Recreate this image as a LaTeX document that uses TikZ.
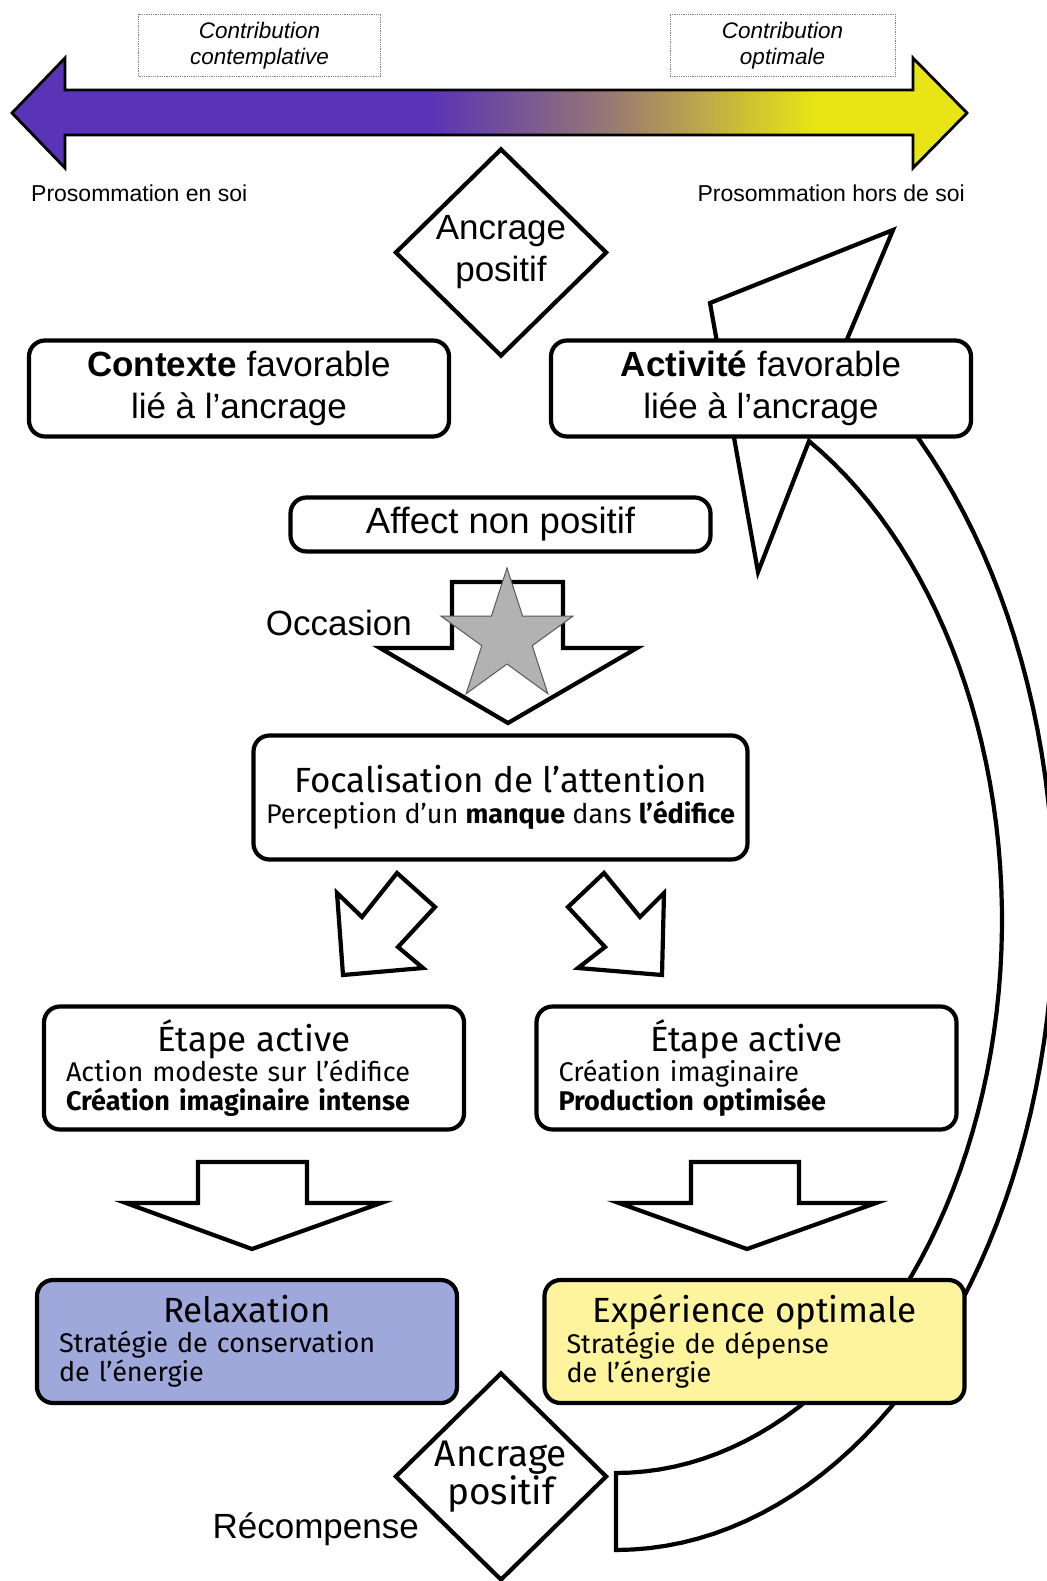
\documentclass[tikz,border=0pt]{standalone}
\usepackage{fontspec}
\setmainfont{Liberation Sans}
\newfontfamily\dinfont{Fira Sans}
\usepackage{xcolor}
\usepackage{tikz}
\usetikzlibrary{shapes.geometric,arrows.meta}
\definecolor{pviolet}{RGB}{90,52,182}
\definecolor{pmid}{RGB}{150,118,118}
\definecolor{pjaune}{RGB}{232,228,22}
\definecolor{relaxfond}{RGB}{159,168,218}
\definecolor{optifond}{RGB}{255,244,158}
\definecolor{etoile}{RGB}{178,178,178}
\pgfdeclarehorizontalshading{prosom}{100bp}{color(0bp)=(pviolet); color(47bp)=(pviolet); color(56bp)=(pmid); color(67bp)=(pjaune); color(100bp)=(pjaune)}
\newcommand\grandtxt{\fontsize{35}{42}\selectfont}
\newcommand\dintitre{\dinfont\fontsize{35}{34}\selectfont}
\newcommand\dinsous{\dinfont\fontsize{27}{29}\selectfont}

\begin{document}
\begin{tikzpicture}[x=1pt,y=-1pt,
  boite/.style={draw,line width=4.2pt,rounded corners=16pt,fill=white,inner sep=0pt,minimum width=420pt,minimum height=96pt,align=center,font=\grandtxt},
  etape/.style={boite,minimum height=123pt,text width=376pt,align=left,font=\dinsous},
  bloc/.style={draw,line width=4.2pt,fill=white},
  losange/.style={diamond,draw,line width=4.2pt,fill=white,inner sep=0pt,minimum width=212pt,minimum height=208pt,align=center},
  contrib/.style={draw=gray,densely dotted,line width=0.8pt,minimum width=242pt,minimum height=62pt,align=center,font=\fontsize{22.5}{26}\selectfont\itshape},
  libre/.style={inner sep=0pt,font=\grandtxt}]
\useasboundingbox[fill=white](0,0) rectangle (1046,1581);
\node[contrib] (contA) at (259.5,45.5) {Contribution\\contemplative};
\node[contrib,minimum width=225pt] (contB) at (782.5,45.5) {Contribution\\optimale};
\shadedraw[shading=prosom,line width=2.8pt](12,113)--(65,58)--(65,90)--(913,90)--(913,58)--(967,113)--(913,168)--(913,135)--(65,135)--(65,168)--cycle;
\node[libre,anchor=west,font=\fontsize{23}{26}\selectfont] (soiA) at (31,193) {Prosommation en soi};
\node[libre,anchor=east,font=\fontsize{23}{26}\selectfont] (soiB) at (965,193) {Prosommation hors de soi};
\draw[line width=4.2pt,fill=white](616,1473)--(616,1550)
  --plot[domain=90:-59,samples=70,variable=\t]({616+438*cos(\t)},{905+645*sin(\t)})
  --(893,230)--(710,303)--(758,572)
  --plot[domain=-60:90,samples=70,variable=\t]({616+386*cos(\t)},{920+553*sin(\t)})
  --cycle;
\node[losange,font=\grandtxt] (ancrA) at (501,252.5) {\rule{0pt}{8pt}Ancrage\\positif};
\node[boite] (ctx) at (239,388.5) {\textbf{Contexte} favorable\\lié à l’ancrage};
\node[boite] (act) at (761,388.5) {\textbf{Activité} favorable\\liée à l’ancrage};
\node[boite,minimum height=54pt,font=\fontsize{36.5}{42}\selectfont] (affect) at (500.5,524.5) {Affect non positif};
\draw[bloc](452,582)--(563,582)--(563,648)--(637,648)--(508,723)--(380,648)--(452,648)--cycle;
\node[star,star points=5,star point ratio=2.62,minimum size=139pt,inner sep=0pt,draw=black!65,line width=1pt,fill=etoile] (etoile) at (507,637.5) {};
\node[libre,anchor=base east] (occ) at (412,635) {Occasion};
\node[boite,minimum width=494pt,minimum height=124pt,font=\dintitre] (foc) at (500.5,797.5) {Focalisation de l’attention\\[-3pt]\dinsous Perception d’un \textbf{manque} dans \textbf{l’édifice}};
\draw[bloc](397,873)--(435,907)--(398,947)--(423,968)--(343,975)--(337,893)--(362,917)--cycle;
\draw[bloc](604,873)--(568,907)--(605,947)--(578,968)--(662,975)--(664,893)--(640,917)--cycle;
\node[etape] (etA) at (254,1068) {\makebox[\linewidth]{\dintitre Étape active}\\[0pt]Action modeste sur l’édifice\\\textbf{Création imaginaire intense}};
\node[etape] (etB) at (746.5,1068) {\makebox[\linewidth]{\dintitre Étape active}\\[0pt]Création imaginaire\\\textbf{Production optimisée}};
\draw[bloc](198,1162)--(307,1162)--(307,1203)--(381,1203)--(252,1249)--(126,1203)--(198,1203)--cycle;
\draw[bloc](691,1162)--(799,1162)--(799,1203)--(876,1203)--(747,1249)--(619,1203)--(691,1203)--cycle;
\node[etape,fill=relaxfond] (relax) at (247,1341.5) {\makebox[\linewidth]{\dintitre Relaxation}\\[1pt]Stratégie de conservation\\de l’énergie};
\node[etape,fill=optifond] (opti) at (754.5,1341.5) {\makebox[\linewidth]{\dintitre Expérience optimale}\\[1pt]Stratégie de dépense\\de l’énergie};
\node[losange,font=\dinfont\fontsize{37}{34}\selectfont] (ancrB) at (501,1476.5) {\rule{0pt}{6pt}Ancrage\\positif};
\node[libre,anchor=base east] (recomp) at (419,1538) {Récompense};
\end{tikzpicture}
\end{document}
